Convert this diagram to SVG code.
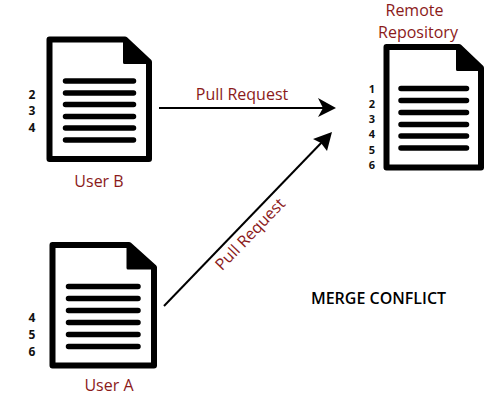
<svg xmlns="http://www.w3.org/2000/svg" width="500" height="400" viewBox="0 0 500 400">
<style>
.doc{fill:#fff;stroke:#000;stroke-width:6;stroke-linejoin:round}
.fold{fill:#000;stroke:#000;stroke-width:3;stroke-linejoin:round}
.ln{stroke:#000;stroke-width:5.500;stroke-linecap:round}
.num{font:700 12px "Open Sans",sans-serif;fill:#111;text-anchor:middle}
.num.sm{font-size:11px}
.lbl{font:400 16px "Open Sans",sans-serif;fill:#8b1a1a;text-anchor:middle}
.title{font:600 16px "Open Sans",sans-serif;fill:#000;text-anchor:middle}
.conn{stroke:#000;fill:none}
</style>
<rect width="500" height="400" fill="#fff"/>
<g id="user-b">
<path class="doc" d="M49.500 39.500H125L149 62V159H49.500Z"/>
<path class="fold" d="M124.500 39.500L149 62.500H124.500Z"/>
<path class="ln" d="M65.500 81H133.500M65.500 93H133.500M65.500 104.500H133.500M65.500 116.500H133.500M65.500 128H133.500M65.500 140H133.500"/>
<text class="num" x="32" y="98.500">2</text><text class="num" x="32" y="115">3</text><text class="num" x="32" y="132">4</text>
<text class="lbl" x="99" y="187">User B</text>
</g>
<g id="remote">
<path class="doc" d="M386.500 47H459L481 68V167.500H386.500Z"/>
<path class="fold" d="M457.500 47L481 69.500H457.500Z"/>
<path class="ln" d="M401 88.500H466.500M401 100.500H466.500M401 112.500H466.500M401 124.500H466.500M401 136H466.500M401 148H466.500"/>
<text class="num sm" x="372" y="93">1</text><text class="num sm" x="372" y="108">2</text><text class="num sm" x="372" y="123">3</text><text class="num sm" x="372" y="138">4</text><text class="num sm" x="372" y="154">5</text><text class="num sm" x="372" y="169">6</text>
<text class="lbl" x="414.500" y="16">Remote</text>
<text class="lbl" x="418" y="38">Repository</text>
</g>
<g id="user-a">
<path class="doc" d="M52.500 245H129L154 267.500V365.500H52.500Z"/>
<path class="fold" d="M128 245L154 268H128Z"/>
<path class="ln" d="M68.500 286.500H138M68.500 298.500H138M68.500 310.500H138M68.500 322.500H138M68.500 334.500H138M68.500 346.500H138"/>
<text class="num" x="32" y="321.500">4</text><text class="num" x="32" y="338.500">5</text><text class="num" x="32" y="355.500">6</text>
<text class="lbl" x="109" y="391">User A</text>
</g>
<g id="connectors">
<path class="conn" stroke-width="2" d="M159 108H325"/>
<path d="M336 108L318 98L323 108L318 117Z"/>
<path class="conn" stroke-width="2" d="M164 306L324 140"/>
<path d="M332 132L313 139L321 143L327 151Z"/>
<text class="lbl" x="242" y="100">Pull Request</text>
<text class="lbl" x="0" y="0" transform="translate(254 238) rotate(-46)">Pull Request</text>
</g>
<text id="merge-conflict" class="title" x="378.500" y="304">MERGE CONFLICT</text>
</svg>
